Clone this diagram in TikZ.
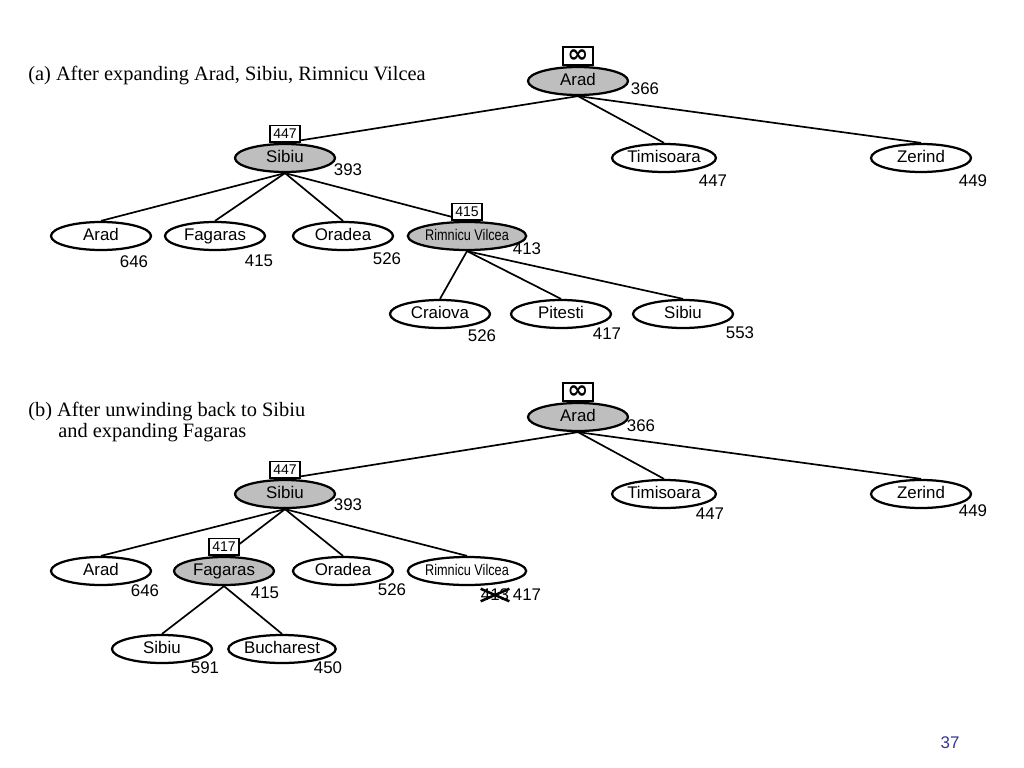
\documentclass[tikz,border=0pt]{standalone}
\usepackage{fontspec}
\setmainfont{Liberation Serif}
\setsansfont{Liberation Sans}
\newfontfamily\symfont{DejaVu Sans}
\usetikzlibrary{shapes.geometric,backgrounds}

\definecolor{expgray}{RGB}{190,190,190}
\definecolor{pagenum}{RGB}{51,51,153}

\tikzset{
  city/.style={ellipse,draw,line width=1.6pt,minimum width=2.5cm,minimum height=0.7cm,
    inner sep=0pt,text height=8.6pt,text depth=2.4pt,font=\sffamily\fontsize{12}{12}\selectfont},
  leaf/.style={city,fill=white},
  expanded/.style={city,fill=expgray},
  fval/.style={inner sep=0pt,font=\sffamily\fontsize{12}{12}\selectfont},
  limbox/.style={draw,line width=1.1pt,fill=white,anchor=south,inner sep=1pt,
    minimum width=0.76cm,minimum height=0.42cm,font=\sffamily\fontsize{10}{10}\selectfont},
  branch/.style={line width=1.2pt},
  caption/.style={anchor=base west,inner sep=0pt,font=\fontsize{14.5}{17}\selectfont}
}
\newcommand{\rvname}{\fontsize{11}{11}\selectfont\scalebox{0.82}[1]{Rimnicu Vilcea}}
\newcommand{\nolimit}{{\symfont\bfseries\fontsize{18}{10}\selectfont\raisebox{-0.5pt}{∞}}}

\begin{document}
\begin{tikzpicture}[x=0.025cm,y=-0.025cm]
\useasboundingbox (0,0) rectangle (1024,768);

% (a) after expanding Arad, Sibiu, Rimnicu Vilcea
\node[caption] (capA) at (28,81) {(a) After expanding Arad, Sibiu, Rimnicu Vilcea};

\node[expanded] (aRoot) at (578,81) {Arad};
\node[limbox,minimum height=0.45cm] (aRootLim) at (aRoot.north) {\nolimit};
\node[fval] (aRootF) at (645,89) {366};

\node[expanded] (aSib) at (285,158) {Sibiu};
\node[limbox] (aSibLim) at (aSib.north) {447};
\node[fval] (aSibF) at (348,170) {393};
\node[leaf] (aTim) at (664,158) {Timisoara};
\node[fval] (aTimF) at (713,181) {447};
\node[leaf] (aZer) at (921,158) {Zerind};
\node[fval] (aZerF) at (973,181) {449};

\node[leaf] (aArd) at (101,236) {Arad};
\node[fval] (aArdF) at (134,262) {646};
\node[leaf] (aFag) at (215,236) {Fagaras};
\node[fval] (aFagF) at (259,261) {415};
\node[leaf] (aOra) at (343,236) {Oradea};
\node[fval] (aOraF) at (387,259) {526};
\node[expanded] (aRim) at (467,236) {\rvname};
\node[limbox] (aRimLim) at (aRim.north) {415};
\node[fval] (aRimF) at (527,249) {413};

\node[leaf] (aCra) at (440,314) {Craiova};
\node[fval] (aCraF) at (482,336) {526};
\node[leaf] (aPit) at (561,314) {Pitesti};
\node[fval] (aPitF) at (607,334) {417};
\node[leaf] (aSib2) at (683,314) {Sibiu};
\node[fval] (aSib2F) at (740,333) {553};

\begin{scope}[on background layer]
\draw[branch] (aRoot.south) -- (aSib.north);
\draw[branch] (aRoot.south) -- (aTim.north);
\draw[branch] (aRoot.south) -- (aZer.north);
\draw[branch] (aSib.south) -- (aArd.north);
\draw[branch] (aSib.south) -- (aFag.north);
\draw[branch] (aSib.south) -- (aOra.north);
\draw[branch] (aSib.south) -- (aRim.north);
\draw[branch] (aRim.south) -- (aCra.north);
\draw[branch] (aRim.south) -- (aPit.north);
\draw[branch] (aRim.south) -- (aSib2.north);
\end{scope}

% (b) after unwinding back to Sibiu and expanding Fagaras
\node[caption] (capB) at (28,416) {(b) After unwinding back to Sibiu};
\node[caption] (capB2) at (58,437) {and expanding Fagaras};

\node[expanded] (bRoot) at (578,417) {Arad};
\node[limbox,minimum height=0.45cm] (bRootLim) at (bRoot.north) {\nolimit};
\node[fval] (bRootF) at (641,426) {366};

\node[expanded] (bSib) at (285,494) {Sibiu};
\node[limbox] (bSibLim) at (bSib.north) {447};
\node[fval] (bSibF) at (348,505) {393};
\node[leaf] (bTim) at (664,494) {Timisoara};
\node[fval] (bTimF) at (710,514) {447};
\node[leaf] (bZer) at (921,494) {Zerind};
\node[fval] (bZerF) at (973,511) {449};

\node[leaf] (bArd) at (101,571) {Arad};
\node[fval] (bArdF) at (145,591) {646};
\node[expanded] (bFag) at (224,571) {Fagaras};
\node[limbox] (bFagLim) at (bFag.north) {417};
\node[fval] (bFagF) at (265,593) {415};
\node[leaf] (bOra) at (343,571) {Oradea};
\node[fval] (bOraF) at (392,590) {526};
\node[leaf] (bRim) at (467,571) {\rvname};
\node[fval] (bRimOld) at (495,595) {413};
\node[fval] (bRimF) at (527,595) {417};
\draw[line width=1.8pt] (bRimOld.north west) -- (bRimOld.south east);
\draw[line width=1.8pt] (bRimOld.south west) -- (bRimOld.north east);

\node[leaf] (bSib2) at (162,649) {Sibiu};
\node[fval] (bSib2F) at (205,668) {591};
\node[leaf] (bBuc) at (282,649) {Bucharest};
\node[fval] (bBucF) at (328,668) {450};

\begin{scope}[on background layer]
\draw[branch] (bRoot.south) -- (bSib.north);
\draw[branch] (bRoot.south) -- (bTim.north);
\draw[branch] (bRoot.south) -- (bZer.north);
\draw[branch] (bSib.south) -- (bArd.north);
\draw[branch] (bSib.south) -- (bFag.north);
\draw[branch] (bSib.south) -- (bOra.north);
\draw[branch] (bSib.south) -- (bRim.north);
\draw[branch] (bFag.south) -- (bSib2.north);
\draw[branch] (bFag.south) -- (bBuc.north);
\end{scope}

\node[fval,text=pagenum] (pageNo) at (950,743) {37};
\end{tikzpicture}
\end{document}
